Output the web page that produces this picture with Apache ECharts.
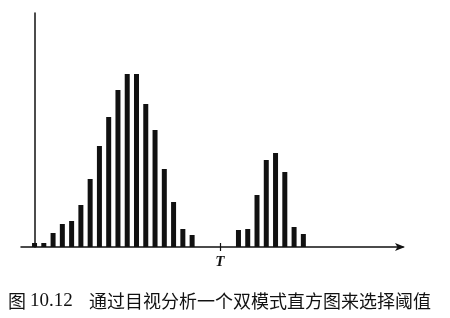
<!DOCTYPE html>
<html>
<head>
<meta charset="utf-8">
<script src="https://cdn.jsdelivr.net/npm/echarts@6/dist/echarts.min.js"></script>
<style>
html,body{margin:0;padding:0;background:#fff;}
#chart{width:450px;height:318px;}
</style>
</head>
<body>
<div id="chart"></div>
<script>
// Histogram bins (grey level index) and counts
var bins = [0,1,2,3,4,5,6,7,8,9,10,11,12,13,14,15,16,17,18,19,20,21,22,23,24,25,26,27,28,29];
var counts = [4,4,14,23,26,42,68,101,130,157,173,173,143,117,78,45,18,12,0,0,0,0,17,18,52,87,94,75,20,13];
var thresholdBin = [20];
var thresholdLabel = 'T';
var captionNumber = '10.12';
var captionText = '通过目视分析一个双模式直方图来选择阈值';

var data = [];
for (var i = 0; i < bins.length; i++) {
  if (counts[i] > 0) data.push([bins[i], counts[i]]);
}

var chart = echarts.init(document.getElementById('chart'), null, {renderer: 'canvas'});
var xMin = -1.46, xMax = 39.75;
chart.setOption({
  backgroundColor: '#ffffff',
  animation: false,
  title: {
    left: 3,
    top: 287,
    text: '{a|图 }{b|' + captionNumber + '}{a|    ' + captionText + '}',
    textStyle: {
      fontWeight: 'normal',
      rich: {
        a: {fontFamily: 'Noto Sans CJK SC', fontSize: 18, color: '#111', fontWeight: 'normal'},
        b: {fontFamily: 'Liberation Serif', fontSize: 19, color: '#111', fontWeight: 'normal'}
      }
    }
  },
  grid: {left: 21, right: 47, top: 13, bottom: 71, containLabel: false},
  xAxis: [{
    type: 'value',
    min: xMin, max: xMax,
    splitLine: {show: false},
    axisLine: {show: true, onZero: false, lineStyle: {color: '#111', width: 1.5},
      symbol: ['none', 'arrow'], symbolSize: [6, 10], symbolOffset: [0, 2]},
    axisTick: {show: true, customValues: thresholdBin, length: 4, lineStyle: {color: '#111', width: 1.2}},
    axisLabel: {show: true, customValues: thresholdBin, margin: 8,
      formatter: function () { return thresholdLabel; },
      fontFamily: 'Liberation Serif', fontStyle: 'italic', fontWeight: 'bold', fontSize: 15, color: '#111'}
  }, {
    type: 'value',
    position: 'bottom',
    offset: 0,
    min: xMin, max: xMax,
    splitLine: {show: false},
    axisLine: {show: false},
    axisTick: {show: true, inside: true, customValues: thresholdBin, length: 4, lineStyle: {color: '#111', width: 1.2}},
    axisLabel: {show: false}
  }],
  yAxis: {
    type: 'value',
    min: 0, max: 234,
    splitLine: {show: false},
    axisLine: {show: true, lineStyle: {color: '#111', width: 1.5}},
    axisTick: {show: false},
    axisLabel: {show: false}
  },
  series: [{
    type: 'bar',
    xAxisIndex: 0,
    data: data,
    barWidth: 5,
    itemStyle: {color: '#111'}
  }]
});
</script>
</body>
</html>
